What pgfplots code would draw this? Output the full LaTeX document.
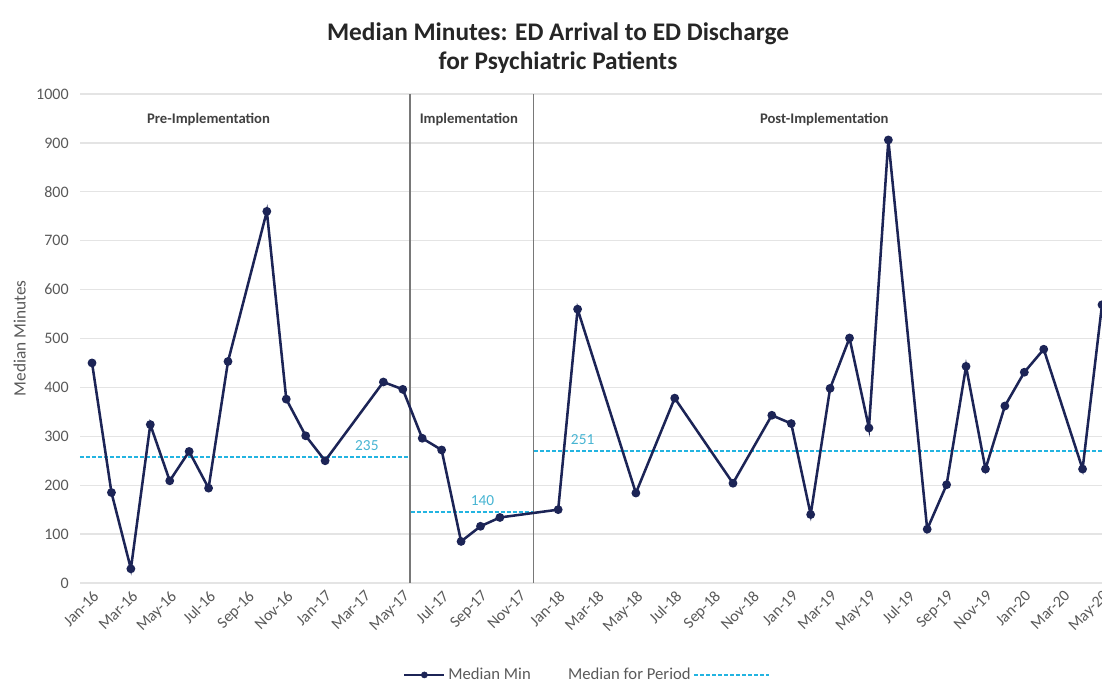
\documentclass[border=0pt]{standalone}
\usepackage{pgfplots}
\pgfplotsset{compat=1.18}
\usepackage{fontspec}
\setmainfont{Carlito}
\definecolor{navy}{RGB}{28,36,86}
\definecolor{mcyan}{RGB}{35,180,225}
\definecolor{medtxt}{RGB}{70,180,210}
\definecolor{gridc}{RGB}{228,228,228}
\definecolor{tickc}{RGB}{89,89,89}
\definecolor{sepc}{RGB}{120,120,120}
\definecolor{sect}{RGB}{64,64,64}

\pgfplotstableread{
x y
0 450
1 185
2 29
3 324
4 209
5 269
6 194
7 453
9 760
10 376
11 301
12 250
15 411
16 396
17 296
18 272
19 85
20 116
21 134
24 150
25 560
28 184
30 378
33 204
35 343
36 326
37 140
38 398
39 501
40 317
41 906
43 110
44 201
45 443
46 233
47 362
48 431
49 478
51 233
52 569
}\mydata

\begin{document}
\begin{tikzpicture}
\begin{axis}[
  scale only axis, width=766.5pt, height=366.75pt,
  xmin=-0.62, xmax=52, ymin=0, ymax=1000,
  ytick={0,100,...,1000},
  xtick={0,2,...,52},
  xticklabels={Jan-16,Mar-16,May-16,Jul-16,Sep-16,Nov-16,Jan-17,Mar-17,May-17,Jul-17,Sep-17,Nov-17,Jan-18,Mar-18,May-18,Jul-18,Sep-18,Nov-18,Jan-19,Mar-19,May-19,Jul-19,Sep-19,Nov-19,Jan-20,Mar-20,May-20},
  x tick label style={rotate=45, anchor=north east, font=\fontsize{12}{14}\selectfont, text=tickc},
  y tick label style={font=\fontsize{12}{14}\selectfont, text=tickc, xshift=-5pt},
  yticklabel style={/pgf/number format/1000 sep={}},
  ymajorgrids, grid style={gridc, line width=1pt},
  major tick length=0pt,
  axis line style={draw=none},
  /pgf/number format/assume math mode=true,
  /pgf/number format/1000 sep={},
  ylabel={Median Minutes},
  ylabel style={at={(axis description cs:-0.059,0.5)}, anchor=center, font=\fontsize{13}{15}\selectfont, text=tickc},
  title={Median Minutes: ED Arrival to ED Discharge\\for Psychiatric Patients},
  title style={at={(axis description cs:0.4677,1.077)}, anchor=center, align=center, font=\bfseries\fontsize{19}{21.75}\selectfont, text=black!85},
  legend style={at={(axis description cs:0.497,-0.188)}, anchor=center, draw=none, fill=none, legend columns=2, font=\fontsize{12.5}{14}\selectfont, text=tickc, /tikz/every even column/.append style={column sep=24pt}},
]
% section separators
\addplot[forget plot, sepc, line width=1.1pt] coordinates {(16.36,0) (16.36,1000)};
\addplot[forget plot, sepc, line width=1.1pt] coordinates {(22.73,0) (22.73,1000)};
% period medians
\addplot[forget plot, color=mcyan, line width=1.5pt, dash pattern=on 3pt off 1.5pt] coordinates {(-0.62,257) (16.3,257)};
\addplot[forget plot, color=mcyan, line width=1.5pt, dash pattern=on 3pt off 1.5pt] coordinates {(16.4,145) (22.7,145)};
\addplot[forget plot, color=mcyan, line width=1.5pt, dash pattern=on 3pt off 1.5pt] coordinates {(22.76,269) (52,269)};
% main series
\addplot[forget plot, navy, line width=1.9pt, mark=*, mark size=2.3pt, mark options={fill=navy, draw=navy}] table[x=x, y=y] {\mydata};
\addlegendimage{legend image code/.code={\draw[navy, line width=1.9pt] (0pt,0pt) -- (30pt,0pt); \fill[navy] (15pt,0pt) circle (2.3pt);}}
\addlegendentry{Median Min}
\addlegendimage{empty legend}
\addlegendentry{Median for Period\,\tikz[baseline=-0.55ex]\draw[mcyan, line width=1.5pt, dash pattern=on 3pt off 1.5pt] (0pt,0pt) -- (56pt,0pt);}
% labels
\node[font=\bfseries\fontsize{11}{13}\selectfont, text=sect] at (axis cs:6,948) {Pre-Implementation};
\node[font=\bfseries\fontsize{11}{13}\selectfont, text=sect] at (axis cs:19.4,948) {Implementation};
\node[font=\bfseries\fontsize{11}{13}\selectfont, text=sect] at (axis cs:37.7,948) {Post-Implementation};
\node[font=\fontsize{11.5}{13}\selectfont, text=medtxt] at (axis cs:14.15,280) {235};
\node[font=\fontsize{11.5}{13}\selectfont, text=medtxt] at (axis cs:20.1,169) {140};
\node[font=\fontsize{11.5}{13}\selectfont, text=medtxt] at (axis cs:25.26,293) {251};
\end{axis}
\pgfresetboundingbox
\path[use as bounding box] (-60pt,-75.75pt) rectangle (766.5pt,437.25pt);
\end{tikzpicture}
\end{document}
